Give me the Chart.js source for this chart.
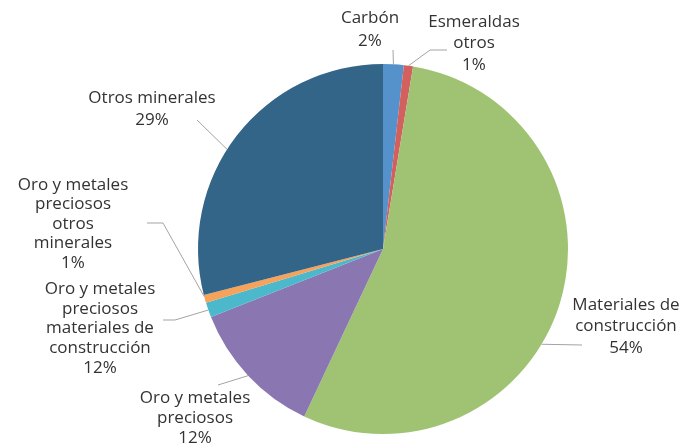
<!DOCTYPE html>
<html lang="es">
<head>
<meta charset="utf-8">
<script src="https://cdn.jsdelivr.net/npm/chart.js@4"></script>
<style>
    html, body { margin: 0; padding: 0; background: #ffffff; }
    #contenedor { width: 683px; height: 446px; }
</style>
</head>
<body>
<div id="contenedor"><canvas id="graficoSectores"></canvas></div>
<script>
const categorias = [
    'Carbón',
    'Esmeraldas otros',
    'Materiales de construcción',
    'Oro y metales preciosos',
    'Oro y metales preciosos materiales de construcción',
    'Oro y metales preciosos otros minerales',
    'Otros minerales'
];
const valores = [1.8, 0.8, 54.4, 12.0, 1.3, 0.7, 29.0];
const porcentajes = ['2%', '1%', '54%', '12%', '12%', '1%', '29%'];
const lineasEtiqueta = [
    ['Carbón'],
    ['Esmeraldas', 'otros'],
    ['Materiales de', 'construcción'],
    ['Oro y metales', 'preciosos'],
    ['Oro y metales', 'preciosos', 'materiales de', 'construcción'],
    ['Oro y metales', 'preciosos', 'otros', 'minerales'],
    ['Otros minerales']
];
const colores = ['#5592cc', '#d2605e', '#9fc372', '#8a77b1', '#4cb8cc', '#f7a25b', '#336589'];

// posición de cada etiqueta (centro x, primera línea y) y quiebres de la línea guía
const etiquetas = [
    { x: 370, y: 18, paso: 23, t: 0.5, guia: [[393, 50]] },
    { x: 474, y: 22, paso: 21.5, t: 0.5, guia: [[430, 50], [447, 50]] },
    { x: 626, y: 305, paso: 21.5, t: 0.57, guia: [[582, 345]] },
    { x: 195, y: 398, paso: 20, t: 0.5, guia: [[218, 385]] },
    { x: 100, y: 289, paso: 19.7, t: 0.5, guia: [[175, 320], [163, 320]] },
    { x: 73, y: 185, paso: 19.5, t: 0.8, guia: [[163, 223], [147, 223]] },
    { x: 152, y: 98, paso: 22, t: 0.45, guia: [[197, 120]] }
];

const etiquetasExternas = {
    id: 'etiquetasExternas',
    afterDatasetsDraw(chart) {
        const ctx = chart.ctx;
        const arcos = chart.getDatasetMeta(0).data;
        ctx.save();
        arcos.forEach((arco, i) => {
            const conf = etiquetas[i];
            const p = arco.getProps(['x', 'y', 'startAngle', 'endAngle', 'outerRadius'], true);
            const ang = p.startAngle + (p.endAngle - p.startAngle) * conf.t;
            ctx.strokeStyle = '#a3a3a3';
            ctx.lineWidth = 1;
            ctx.beginPath();
            ctx.moveTo(p.x + Math.cos(ang) * p.outerRadius, p.y + Math.sin(ang) * p.outerRadius);
            conf.guia.forEach(pt => ctx.lineTo(pt[0], pt[1]));
            ctx.stroke();

            ctx.fillStyle = '#333333';
            ctx.font = '17px "Open Sans"';
            ctx.textAlign = 'center';
            ctx.textBaseline = 'middle';
            const lineas = lineasEtiqueta[i].concat([porcentajes[i]]);
            lineas.forEach((texto, j) => {
                ctx.fillText(texto, conf.x, conf.y + j * conf.paso);
            });
        });
        ctx.restore();
    }
};

new Chart(document.getElementById('graficoSectores'), {
    type: 'pie',
    data: {
        labels: categorias,
        datasets: [{
            data: valores,
            backgroundColor: colores,
            borderWidth: 0
        }]
    },
    options: {
        responsive: true,
        maintainAspectRatio: false,
        animation: false,
        layout: {
            padding: { left: 198, right: 115, top: 64, bottom: 12 }
        },
        plugins: {
            legend: { display: false },
            tooltip: { enabled: false }
        }
    },
    plugins: [etiquetasExternas]
});
</script>
</body>
</html>
